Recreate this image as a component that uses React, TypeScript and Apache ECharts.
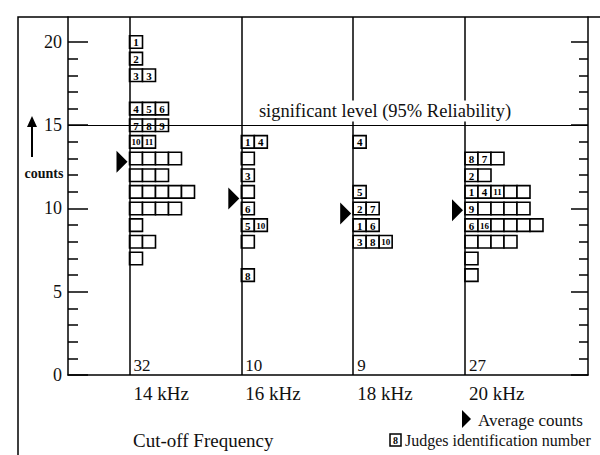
import { useEffect, useRef } from "react";
import * as echarts from "echarts";

const freqs = [14, 16, 18, 20];
const freqLabels = ["14 kHz", "16 kHz", "18 kHz", "20 kHz"];
const judgeTotals = [32, 10, 9, 27];
const averageCounts = [12.8, 10.6, 9.7, 9.9];
const yMajorTicks = [0, 5, 10, 15, 20];
const yMinorTicks = [1, 2, 3, 4, 6, 7, 8, 9, 11, 12, 13, 14, 16, 17, 18, 19];
const significantLevel = 15;

// rows: [count, judge identification numbers of the boxes in that row]
const rows14: [number, string[]][] = [
  [20, ["1"]],
  [19, ["2"]],
  [18, ["3", "3"]],
  [16, ["4", "5", "6"]],
  [15, ["7", "8", "9"]],
  [14, ["10", "11"]],
  [13, ["", "", "", ""]],
  [12, ["", "", ""]],
  [11, ["", "", "", "", ""]],
  [10, ["", "", "", ""]],
  [9, [""]],
  [8, ["", ""]],
  [7, [""]],
];
const rows16: [number, string[]][] = [
  [14, ["1", "4"]],
  [13, [""]],
  [12, ["3"]],
  [11, [""]],
  [10, ["6"]],
  [9, ["5", "10"]],
  [8, [""]],
  [6, ["8"]],
];
const rows18: [number, string[]][] = [
  [14, ["4"]],
  [11, ["5"]],
  [10, ["2", "7"]],
  [9, ["1", "6"]],
  [8, ["3", "8", "10"]],
];
const rows20: [number, string[]][] = [
  [13, ["8", "7", ""]],
  [12, ["2", ""]],
  [11, ["1", "4", "11", "", ""]],
  [10, ["9", "", "", "", ""]],
  [9, ["6", "16", "", "", "", ""]],
  [8, ["", "", "", ""]],
  [7, [""]],
  [6, [""]],
];
const allRows = [rows14, rows16, rows18, rows20];

const SERIF = '"Liberation Serif", "DejaVu Serif", serif';
const INK = "#111";
const BOX_W = 13;
const BOX_H = 12.5;

type Box = { freq: number; count: number; pos: number; label: string };
const boxes: Box[] = [];
allRows.forEach((rows, fi) => {
  rows.forEach(([count, ids]) => {
    ids.forEach((label, pos) => boxes.push({ freq: freqs[fi], count, pos, label }));
  });
});

export default function App() {
  const ref = useRef<HTMLDivElement>(null);
  useEffect(() => {
    document.body.style.margin = "0";
    if (!ref.current) return;
    const chart = echarts.init(ref.current, undefined, { renderer: "svg" });
    const yBase = {
      type: "value" as const,
      min: 0,
      max: 21.5,
      splitLine: { show: false },
    };
    chart.setOption({
      animation: false,
      backgroundColor: "#fff",
      grid: { left: 68, right: 12, top: 17, bottom: 80 },
      xAxis: {
        type: "value",
        min: 12.9,
        max: 22.2,
        splitLine: { show: false },
        axisLine: { show: true, lineStyle: { color: "#000", width: 1.5 } },
        axisTick: { show: false },
        axisLabel: {
          customValues: freqs,
          formatter: (v: number) => freqLabels[freqs.indexOf(v)] ?? "",
          align: "left",
          margin: 9,
          padding: [0, 0, 0, 4],
          fontFamily: SERIF,
          fontSize: 19,
          color: INK,
        },
      },
      yAxis: [
        {
          ...yBase,
          position: "left",
          axisLine: { show: true, lineStyle: { color: "#000", width: 1.5 } },
          axisTick: { show: true, inside: true, length: 20, customValues: yMajorTicks, lineStyle: { color: "#000", width: 1.5 } },
          axisLabel: {
            customValues: yMajorTicks,
            formatter: (v: number) => String(v),
            margin: 6,
            fontFamily: SERIF,
            fontSize: 18,
            color: INK,
          },
        },
        {
          ...yBase,
          position: "left",
          axisLine: { show: false },
          axisTick: { show: true, inside: true, length: 10, customValues: yMinorTicks, lineStyle: { color: "#000", width: 1.5 } },
          axisLabel: { show: false },
        },
        {
          ...yBase,
          position: "right",
          axisLine: { show: true, lineStyle: { color: "#000", width: 1.5 } },
          axisTick: { show: true, inside: true, length: 17, customValues: yMajorTicks, lineStyle: { color: "#000", width: 1.5 } },
          axisLabel: { show: false },
        },
        {
          ...yBase,
          position: "right",
          axisLine: { show: false },
          axisTick: { show: true, inside: true, length: 9, customValues: yMinorTicks, lineStyle: { color: "#000", width: 1.5 } },
          axisLabel: { show: false },
        },
      ],
      series: [
        {
          type: "custom",
          name: "judges",
          clip: false,
          yAxisIndex: 0,
          data: boxes.map((b) => [b.freq, b.count]),
          renderItem: (params: any, api: any) => {
            const b = boxes[params.dataIndex];
            const p = api.coord([b.freq, b.count]);
            const x = p[0] + b.pos * BOX_W;
            return {
              type: "group",
              children: [
                {
                  type: "rect",
                  shape: { x, y: p[1] - BOX_H / 2, width: BOX_W, height: BOX_H },
                  style: { fill: "#fff", stroke: "#000", lineWidth: 1.6 },
                },
                {
                  type: "text",
                  style: {
                    text: b.label,
                    x: x + BOX_W / 2,
                    y: p[1] + 0.5,
                    align: "center",
                    verticalAlign: "middle",
                    font: `bold ${b.label.length > 1 ? 9 : 11}px ${SERIF}`,
                    fill: "#000",
                  },
                },
              ],
            };
          },
          markLine: {
            silent: true,
            symbol: "none",
            label: { show: false },
            lineStyle: { color: "#000", width: 1.5, type: "solid" },
            data: [
              ...freqs.map((f) => ({ xAxis: f })),
              { yAxis: significantLevel, lineStyle: { width: 1.2 } },
            ],
          },
          z: 3,
        },
        {
          type: "custom",
          name: "average",
          clip: false,
          yAxisIndex: 0,
          data: freqs.map((f, i) => [f, averageCounts[i]]),
          renderItem: (params: any, api: any) => {
            const p = api.coord([api.value(0), api.value(1)]);
            return {
              type: "polygon",
              shape: { points: [[p[0] - 13, p[1] - 11], [p[0] - 2, p[1]], [p[0] - 13, p[1] + 11]] },
              style: { fill: "#000" },
            };
          },
          z: 4,
        },
        {
          type: "custom",
          name: "totals",
          clip: false,
          yAxisIndex: 0,
          data: freqs.map((f, i) => [f, 0, judgeTotals[i]]),
          renderItem: (params: any, api: any) => {
            const p = api.coord([api.value(0), api.value(1)]);
            return {
              type: "text",
              style: {
                text: String(judgeTotals[params.dataIndex]),
                x: p[0] + 4,
                y: p[1] - 1,
                align: "left",
                verticalAlign: "bottom",
                font: `17px ${SERIF}`,
                fill: INK,
              },
            };
          },
          z: 4,
        },
      ],
      graphic: [
        {
          type: "rect",
          shape: { x: 18, y: 17, width: 700, height: 600 },
          style: { fill: "none", stroke: "#000", lineWidth: 1.5 },
          silent: true,
        },
        {
          type: "text",
          x: 385,
          y: 111,
          z: 100,
          style: {
            text: "significant level (95% Reliability)",
            align: "center",
            verticalAlign: "middle",
            font: `18.5px ${SERIF}`,
            fill: INK,
            backgroundColor: "#fff",
            padding: [1, 3],
          },
        },
        {
          type: "line",
          shape: { x1: 32, y1: 157, x2: 32, y2: 124 },
          style: { stroke: "#000", lineWidth: 2 },
        },
        {
          type: "polygon",
          shape: { points: [[27, 127], [32, 116], [37, 127]] },
          style: { fill: "#000" },
        },
        {
          type: "text",
          x: 44,
          y: 173,
          style: { text: "counts", align: "center", verticalAlign: "middle", font: `bold 14px ${SERIF}`, fill: INK },
        },
        {
          type: "text",
          x: 133,
          y: 440,
          style: { text: "Cut-off Frequency", align: "left", verticalAlign: "middle", font: `19px ${SERIF}`, fill: INK },
        },
        {
          type: "polygon",
          shape: { points: [[462, 410], [471, 419], [462, 428]] },
          style: { fill: "#000" },
        },
        {
          type: "text",
          x: 478,
          y: 420,
          style: { text: "Average counts", align: "left", verticalAlign: "middle", font: `17px ${SERIF}`, fill: INK },
        },
        {
          type: "rect",
          shape: { x: 390, y: 434, width: 11, height: 12 },
          style: { fill: "#fff", stroke: "#000", lineWidth: 1.5 },
        },
        {
          type: "text",
          x: 395.5,
          y: 440.5,
          style: { text: "8", align: "center", verticalAlign: "middle", font: `bold 10px ${SERIF}`, fill: "#000" },
        },
        {
          type: "text",
          x: 405,
          y: 440,
          style: { text: "Judges identification number", align: "left", verticalAlign: "middle", font: `16px ${SERIF}`, fill: INK },
        },
      ],
    });
    return () => chart.dispose();
  }, []);
  return <div ref={ref} style={{ width: 600, height: 455 }} />;
}
